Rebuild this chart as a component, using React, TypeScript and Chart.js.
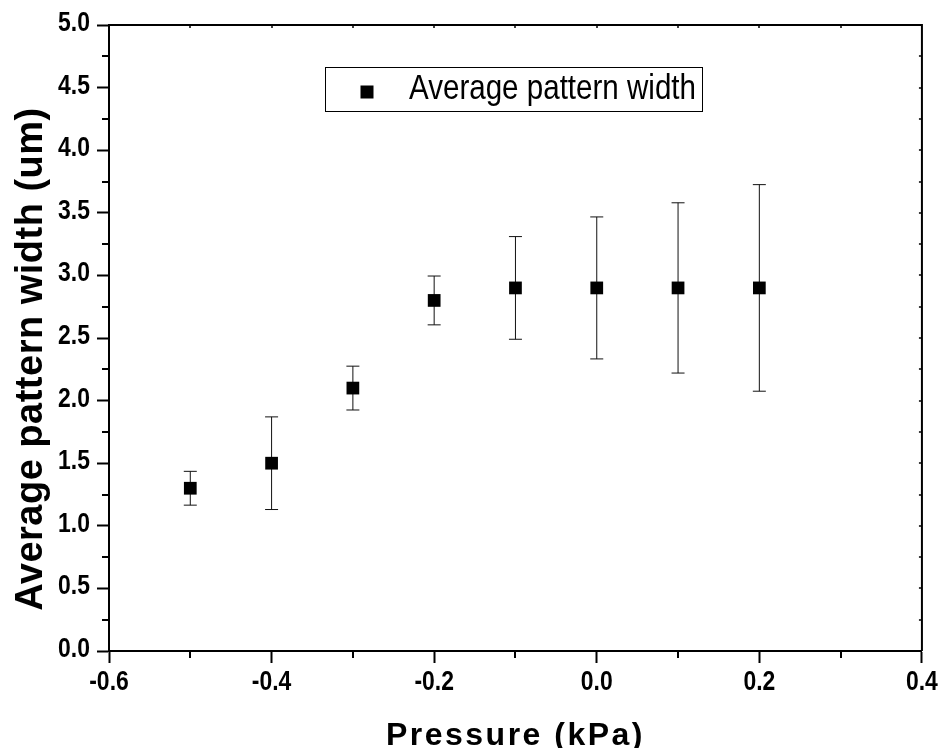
import { useEffect, useRef } from "react";
import { Chart, registerables } from "chart.js";
Chart.register(...registerables);

// ---- data ----
const pressure = [-0.5, -0.4, -0.3, -0.2, -0.1, 0.0, 0.1, 0.2];
const widthMean = [1.3, 1.5, 2.1, 2.8, 2.9, 2.9, 2.9, 2.9];
const widthErr = [0.135, 0.37, 0.175, 0.195, 0.41, 0.567, 0.68, 0.825];
const xRange = [-0.6, 0.4];
const yRange = [0, 5];
const xMajorStep = 0.2;
const xMinorStep = 0.1;
const yMajorStep = 0.5;
const yMinorStep = 0.25;
const seriesLabel = "Average pattern width";
const xTitle = "Pressure (kPa)";
const yTitle = "Average pattern width (um)";

const REGULAR = '"Liberation Sans", Arial, sans-serif';

function fmt(v: number) {
  const n = Math.round(Number(v) * 10) / 10;
  return (n === 0 ? 0 : n).toFixed(1);
}

export default function App() {
  const ref = useRef<HTMLCanvasElement>(null);

  useEffect(() => {
    const canvas = ref.current;
    if (!canvas) return;

    const errorBars = {
      id: "errorBars",
      beforeDatasetsDraw(chart: any) {
        const { ctx, scales } = chart;
        const xs = scales.x;
        const ys = scales.y;
        ctx.save();
        ctx.strokeStyle = "#111";
        ctx.lineWidth = 1;
        pressure.forEach((p, i) => {
          const x = xs.getPixelForValue(p);
          const yt = ys.getPixelForValue(widthMean[i] + widthErr[i]);
          const yb = ys.getPixelForValue(widthMean[i] - widthErr[i]);
          ctx.beginPath();
          ctx.moveTo(x, yt);
          ctx.lineTo(x, yb);
          ctx.moveTo(x - 6.5, yt);
          ctx.lineTo(x + 6.5, yt);
          ctx.moveTo(x - 6.5, yb);
          ctx.lineTo(x + 6.5, yb);
          ctx.stroke();
        });
        ctx.restore();
      },
    };

    const drawScaled = (ctx: any, text: string, x: number, y: number, sx: number, align: string) => {
      const w = ctx.measureText(text).width * sx;
      let left = x;
      if (align === "center") left = x - w / 2;
      else if (align === "right") left = x - w;
      ctx.save();
      ctx.translate(left, y);
      ctx.scale(sx, 1);
      ctx.textAlign = "left";
      ctx.fillText(text, 0, 0);
      ctx.restore();
    };

    const frame = {
      id: "frame",
      afterDraw(chart: any) {
        const { ctx, chartArea: a, scales } = chart;
        const xs = scales.x;
        const ys = scales.y;
        ctx.save();
        ctx.strokeStyle = "#000";
        // top and right borders
        ctx.lineWidth = 2;
        ctx.beginPath();
        ctx.moveTo(a.left, a.top);
        ctx.lineTo(a.right, a.top);
        ctx.lineTo(a.right, a.bottom);
        ctx.stroke();
        // minor ticks bottom
        ctx.beginPath();
        for (let v = xRange[0] + xMinorStep; v < xRange[1] - 1e-9; v += xMajorStep) {
          const x = Math.round(xs.getPixelForValue(v));
          ctx.moveTo(x, a.bottom);
          ctx.lineTo(x, a.bottom + 7);
        }
        // minor ticks left
        for (let v = yRange[0] + yMinorStep; v < yRange[1] - 1e-9; v += yMajorStep) {
          const y = Math.round(ys.getPixelForValue(v));
          ctx.moveTo(a.left, y);
          ctx.lineTo(a.left - 7, y);
        }
        ctx.stroke();
        // tiny inward ticks top & right
        ctx.lineWidth = 1.5;
        ctx.beginPath();
        for (let v = xRange[0] + xMinorStep; v < xRange[1] - 1e-9; v += xMinorStep) {
          const x = Math.round(xs.getPixelForValue(v));
          ctx.moveTo(x, a.top);
          ctx.lineTo(x, a.top + 3);
        }
        for (let v = yRange[0] + yMinorStep; v < yRange[1] - 1e-9; v += yMinorStep) {
          const y = Math.round(ys.getPixelForValue(v));
          ctx.moveTo(a.right, y);
          ctx.lineTo(a.right - 3, y);
        }
        ctx.stroke();

        // tick labels (from the library's own tick lists)
        ctx.fillStyle = "#000";
        ctx.font = `bold 27px ${REGULAR}`;
        ctx.textBaseline = "alphabetic";
        xs.ticks.forEach((t: any) => {
          drawScaled(ctx, fmt(t.value), xs.getPixelForValue(t.value), a.bottom + 39, 0.85, "center");
        });
        ys.ticks.forEach((t: any) => {
          drawScaled(ctx, fmt(t.value), a.left - 19, ys.getPixelForValue(t.value) + 6, 0.85, "right");
        });

        // axis titles
        ctx.font = `bold 32px ${REGULAR}`;
        (ctx as any).letterSpacing = "2.5px";
        ctx.textAlign = "center";
        ctx.fillText(xTitle, (a.left + a.right) / 2, 745);
        (ctx as any).letterSpacing = "0.5px";
        ctx.save();
        ctx.translate(42, 359);
        ctx.rotate(-Math.PI / 2);
        ctx.font = `bold 38px ${REGULAR}`;
        ctx.fillText(yTitle, 0, 0);
        ctx.restore();
        (ctx as any).letterSpacing = "0px";

        // legend
        const L = 325, T = 67, R = 702, B = 111;
        ctx.fillStyle = "#fff";
        ctx.fillRect(L, T, R - L, B - T);
        ctx.lineWidth = 1;
        ctx.strokeStyle = "#000";
        ctx.strokeRect(L + 0.5, T + 0.5, R - L, B - T);
        ctx.fillStyle = "#000";
        ctx.fillRect(367 - 6.5, 92 - 6.5, 13, 13);
        ctx.font = `35px ${REGULAR}`;
        const natural = ctx.measureText(seriesLabel).width;
        drawScaled(ctx, seriesLabel, 409, 99, 287 / natural, "left");
        ctx.restore();
      },
    };

    const tickFont = { family: REGULAR, size: 26, weight: "bold" as const };

    const chart = new Chart(canvas, {
      type: "scatter",
      data: {
        datasets: [
          {
            label: seriesLabel,
            data: pressure.map((x, i) => ({ x, y: widthMean[i] })),
            pointStyle: "rect",
            pointRadius: 9,
            pointHoverRadius: 9,
            backgroundColor: "#000",
            borderColor: "#000",
            borderWidth: 0,
          },
        ],
      },
      options: {
        responsive: false,
        animation: false,
        devicePixelRatio: 1,
        layout: { padding: { top: 25, right: 20, left: 0, bottom: 0 } },
        plugins: {
          legend: { display: false },
          tooltip: { enabled: false },
        },
        scales: {
          x: {
            type: "linear",
            min: xRange[0],
            max: xRange[1],
            ticks: {
              stepSize: xMajorStep,
              callback: (v: any) => fmt(v),
              font: tickFont,
              color: "rgba(0,0,0,0)",
              padding: 3,
              maxRotation: 0,
              autoSkip: false,
            },
            grid: {
              drawOnChartArea: false,
              drawTicks: true,
              tickLength: 12,
              tickWidth: 2,
              tickColor: "#000",
            },
            border: { display: true, color: "#000", width: 2 },
            afterFit: (s: any) => {
              s.height = 97;
            },
          },
          y: {
            type: "linear",
            min: yRange[0],
            max: yRange[1],
            ticks: {
              stepSize: yMajorStep,
              callback: (v: any) => fmt(v),
              font: tickFont,
              color: "rgba(0,0,0,0)",
              padding: 7,
              autoSkip: false,
            },
            grid: {
              drawOnChartArea: false,
              drawTicks: true,
              tickLength: 12,
              tickWidth: 2,
              tickColor: "#000",
            },
            border: { display: true, color: "#000", width: 2 },
            afterFit: (s: any) => {
              s.width = 109;
            },
          },
        },
      },
      plugins: [errorBars, frame],
    });

    return () => chart.destroy();
  }, []);

  return (
    <div style={{ position: "absolute", left: 0, top: 0, width: 943, height: 748, background: "#fff" }}>
      <canvas ref={ref} width={943} height={748} />
    </div>
  );
}
